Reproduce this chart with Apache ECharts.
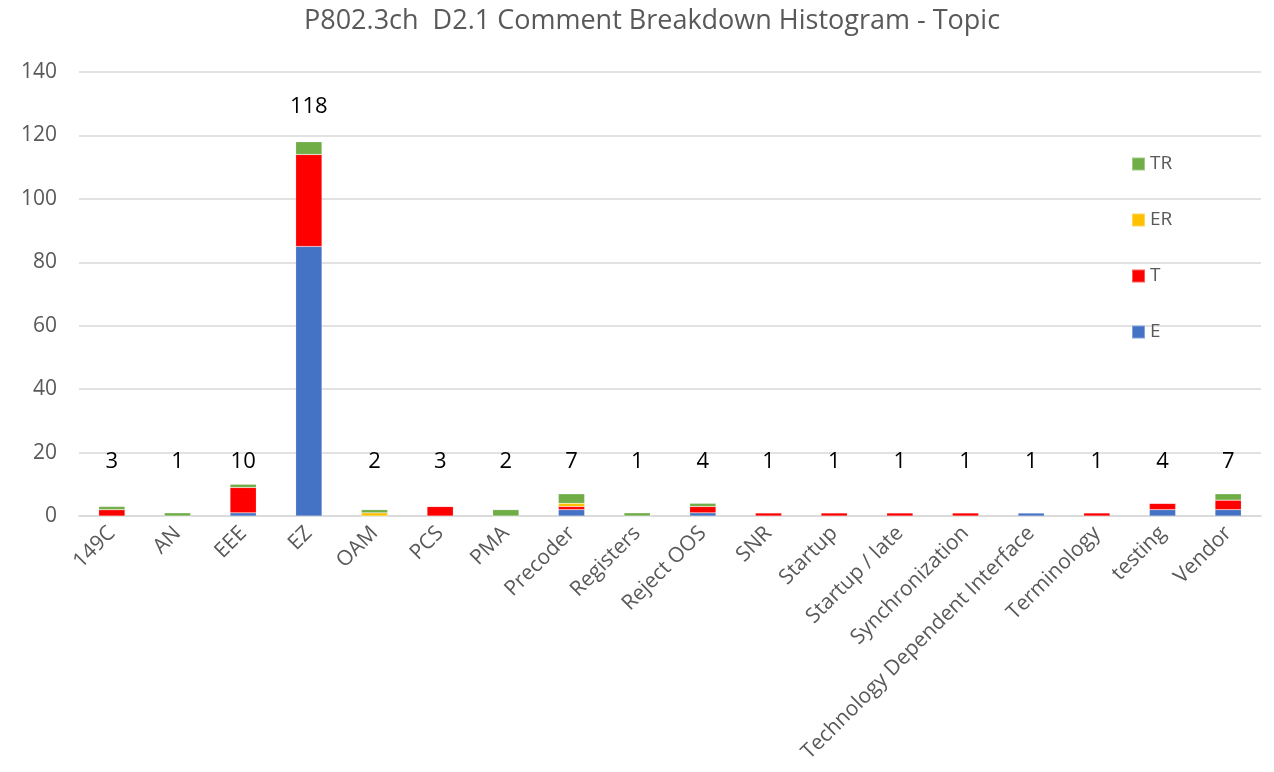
<!DOCTYPE html>
<html><head><meta charset="utf-8">
<script src="https://cdn.jsdelivr.net/npm/echarts@6/dist/echarts.min.js"></script>
<style>html,body{margin:0;padding:0;background:#fff}#c{width:1274px;height:772px}</style>
</head><body><div id="c"></div>
<script>
const categories = ['149C','AN','EEE','EZ','OAM','PCS','PMA','Precoder','Registers','Reject OOS','SNR','Startup','Startup / late','Synchronization','Technology Dependent Interface','Terminology','testing','Vendor'];
const E  = [0,0,1,85,0,0,0,2,0,1,0,0,0,0,1,0,2,2];
const T  = [2,0,8,29,0,3,0,1,0,2,1,1,1,1,0,1,2,3];
const ER = [0,0,0,0,1,0,0,1,0,0,0,0,0,0,0,0,0,0];
const TR = [1,1,1,4,1,0,2,3,1,1,0,0,0,0,0,0,0,2];
const totals = [3,1,10,118,2,3,2,7,1,4,1,1,1,1,1,1,4,7];
const yTicks = {min:0, max:140, interval:20};

const font = 'Open Sans';
const chart = echarts.init(document.getElementById('c'));
function bar(name, data, color){
  return {name, type:'bar', stack:'s', data, barWidth:'40%',
    itemStyle:{color, borderColor:'rgba(255,255,255,0.35)', borderWidth:0.5}};
}
chart.setOption({
  animation:false,
  title:{text:'P802.3ch  D2.1 Comment Breakdown Histogram - Topic', left:299, top:3,
    textStyle:{fontFamily:font, fontSize:27, fontWeight:'normal', color:'#595959'}},
  legend:{orient:'vertical', left:1126, top:148, itemWidth:13, itemHeight:13, itemGap:34,
    icon:'rect', data:['TR','ER','T','E'],
    textStyle:{fontFamily:font, fontSize:19, color:'#595959', lineHeight:22}},
  grid:{left:79, right:13, top:72, bottom:256},
  xAxis:{type:'category', data:categories,
    axisLine:{lineStyle:{color:'#d9d9d9', width:1.5}}, axisTick:{show:false},
    axisLabel:{rotate:45, interval:0, margin:14, fontFamily:font, fontSize:21, color:'#595959'}},
  yAxis:{type:'value', min:yTicks.min, max:yTicks.max, interval:yTicks.interval,
    axisLine:{show:false}, axisTick:{show:false},
    splitLine:{lineStyle:{color:'#d9d9d9', width:1.5}},
    axisLabel:{margin:22, fontFamily:font, fontSize:21, color:'#595959'}},
  series:[
    bar('E', E, '#4472C4'),
    bar('T', T, '#FF0000'),
    bar('ER', ER, '#FFC000'),
    bar('TR', TR, '#70AD47'),
    {type:'custom', name:'total', silent:true, data:totals.map((v,i)=>[i,v]),
      renderItem:function(params, api){
        const i = api.value(0), v = api.value(1);
        let p;
        if (v > 20) { p = api.coord([i, v]); p[1] -= 35; }
        else { p = api.coord([i, 17]); }
        return {type:'text', style:{text:String(v), x:p[0], y:p[1], align:'center', verticalAlign:'middle',
          fontFamily:font, fontSize:22, fill:'#000'}};
      }, z:10}
  ]
});
</script></body></html>
